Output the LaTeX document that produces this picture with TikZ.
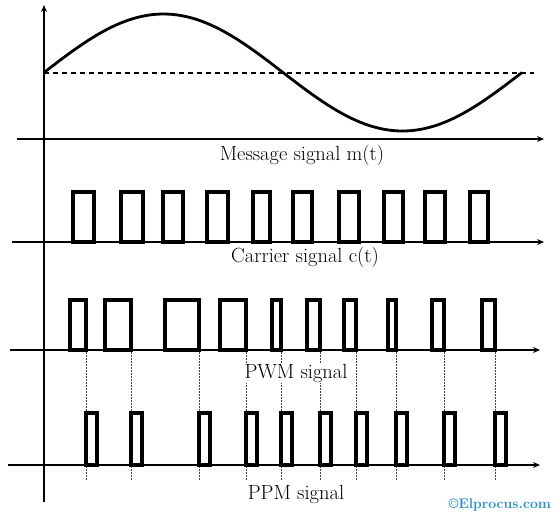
\documentclass[tikz,border=0pt]{standalone}
\usepackage{tikz}
\usetikzlibrary{arrows.meta, positioning}
\usepackage{xcolor}
\definecolor{elblue}{RGB}{38,142,212}
\definecolor{guidegray}{RGB}{70,70,70}

\tikzset{
  sigaxis/.style={line width=1.6pt, -{Stealth[length=7pt,width=6pt]}},
  pulse/.style={line width=3.2pt, line join=miter},
  guide/.style={guidegray, line width=0.9pt, dash pattern=on 1.5pt off 1.5pt},
  siglabel/.style={font=\fontsize{20.5}{23}\selectfont, inner sep=0pt}
}

\begin{document}
\begin{tikzpicture}[x=1pt, y=-1pt]
  \useasboundingbox (0,0) rectangle (557,520);
  % axes
  \draw[sigaxis] (44,502) -- (44,5);
  \draw[sigaxis] (17,139) -- (544,139);
  \draw[sigaxis] (12,242) -- (544,242);
  \draw[sigaxis] (10,350) -- (540,350);
  \draw[sigaxis] (8,465) -- (540,465);
  % message signal
  \draw[line width=1.3pt, dash pattern=on 5pt off 4pt] (44,73) -- (534,73);
  \draw[line width=2.8pt, domain=44:522, samples=80, smooth] plot (\x, {72.5 - 58.5*sin((\x-44)/478*360)});
  \node[siglabel] (msglabel) at (302,155) {Message signal m(t)};
  % carrier pulses
  \foreach \a/\b in {73/94, 121/143, 163/183, 207/228, 253/270, 293/312, 339/359, 384/403, 425/445, 470/488}
    \draw[pulse] (\a,242) rectangle (\b,192);
  \node[siglabel] (carlabel) at (305,257) {Carrier signal c(t)};
  % PWM pulses, trailing edges start the PPM pulses
  \foreach \a/\b in {70/86, 105/131, 165/199, 220/246, 272/281, 307/320, 344/356, 388/396, 432/444, 482/495} {
    \draw[guide] (\b,352) -- (\b,480);
    \draw[pulse] (\a,350) rectangle (\b,300);
    \draw[pulse] (\b,465) rectangle ({\b+11},413);
  }
  \node[siglabel, fill=white, inner sep=1pt] (pwmlabel) at (296,373) {PWM signal};
  \node[siglabel, fill=white, inner sep=1pt] (ppmlabel) at (296,494) {PPM signal};
  \node[elblue, font=\fontsize{14}{16}\selectfont\bfseries, inner sep=0pt] (mark) at (500,505) {\textcopyright Elprocus.com};
\end{tikzpicture}
\end{document}
